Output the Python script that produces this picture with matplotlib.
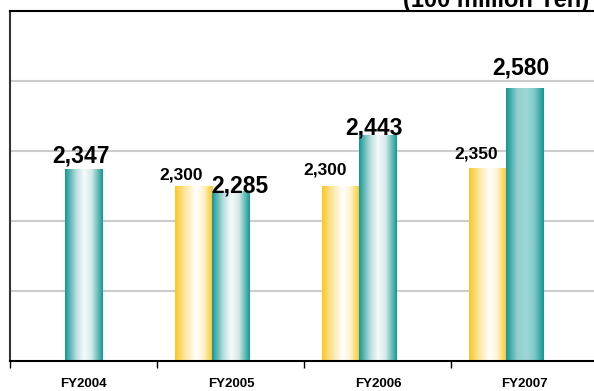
import matplotlib
matplotlib.use("Agg")
import matplotlib.pyplot as plt
import numpy as np
from matplotlib.colors import LinearSegmentedColormap

plt.rcParams['font.family'] = ['Liberation Sans', 'DejaVu Sans']

years = ['FY2004', 'FY2005', 'FY2006', 'FY2007']
plan = [None, 2300, 2300, 2350]      # yellow bars
actual = [2347, 2285, 2443, 2580]    # teal bars
unit_label = '(100 million Yen)'

# label nudges (dx, dy) in points from the bar top centre
plan_off = [None, (-9, 4.5), (-11, 8), (-8, 7)]
actual_off = [(-2, 5), (6.5, -1), (-3, 1), (-3, 9.5)]

# horizontal gradients for the bars
cm_yellow = LinearSegmentedColormap.from_list(
    'yel', [(0, '#fcc623'), (0.25, '#fde59a'), (0.55, '#ffffff'), (0.75, '#fef3cf'), (1, '#fcc623')])
cm_teal = LinearSegmentedColormap.from_list(
    'teal', [(0, '#149894'), (0.3, '#b9dfde'), (0.5, '#f6fbfb'), (0.7, '#d5ebea'), (1, '#149894')])
cm_teal07 = LinearSegmentedColormap.from_list(
    'teal07', [(0, '#139692'), (0.3, '#8fd0cf'), (0.55, '#9fd7d7'), (0.75, '#80c9c8'), (1, '#139692')])

fig = plt.figure(figsize=(5.94, 3.91), dpi=100)
ax = fig.add_axes([10/594, 30/391, 584/594, 350/391])

ymin, ymax = 1800, 2800
w = 0.255
grad = np.linspace(0, 1, 256).reshape(1, -1)


def gbar(x, h, cmap):
    b = ax.bar(x, h - ymin, w, bottom=ymin, color='none', edgecolor='none', zorder=2)[0]
    ax.imshow(grad, cmap=cmap, aspect='auto', extent=(x - w/2, x + w/2, ymin, h),
              zorder=2, interpolation='bilinear')
    return b


for i in range(len(years)):
    if plan[i] is not None:
        gbar(i - w, plan[i], cm_yellow)
        ax.annotate('{:,}'.format(plan[i]), (i - w, plan[i]), xytext=plan_off[i],
                    textcoords='offset points', ha='center', va='baseline',
                    fontsize=12.5, fontweight='bold', zorder=3)
    gbar(i, actual[i], cm_teal07 if i == 3 else cm_teal)
    ax.annotate('{:,}'.format(actual[i]), (i, actual[i]), xytext=actual_off[i],
                textcoords='offset points', ha='center', va='baseline',
                fontsize=16.5, fontweight='bold', zorder=3)

ax.set_xlim(-0.503, 3.47)
ax.set_ylim(ymin, ymax)

for y in [2000, 2200, 2400, 2600]:
    ax.axhline(y, color='#cccccc', lw=1.5, zorder=1)

ax.set_yticks([])
ax.set_xticks(range(len(years)))
ax.set_xticklabels(years, fontsize=9.5, fontweight='bold')
ax.tick_params(axis='x', which='major', length=0, pad=12)
ax.set_xticks([-0.5, 0.5, 1.5, 2.5], minor=True)
ax.tick_params(axis='x', which='minor', length=5, width=1, direction='out')

ax.spines['right'].set_visible(False)
for s in ['left', 'top', 'bottom']:
    ax.spines[s].set_linewidth(1.5)
    ax.spines[s].set_color('black')
ax.spines['left'].set_color('#333333')

fig.text(589/594, 1 - 7.5/391, unit_label, ha='right', va='baseline',
         fontsize=17, fontweight='bold')

fig.savefig('out.png', dpi=100)
